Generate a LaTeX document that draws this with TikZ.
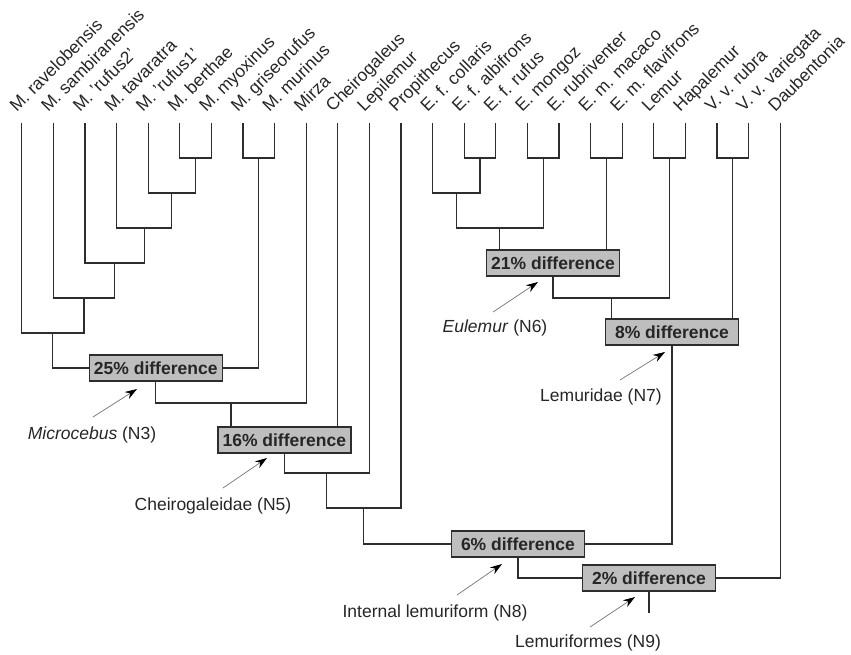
\documentclass[tikz,border=0pt]{standalone}
\usepackage{fontspec}
\setmainfont{Liberation Sans}
\usetikzlibrary{arrows.meta}
\definecolor{treeline}{RGB}{45,45,45}
\definecolor{boxfill}{RGB}{190,190,190}

\tikzset{
  branch/.style={draw=treeline, line width=1.2pt},
  diffbox/.style={draw=treeline, line width=1.4pt, fill=boxfill, minimum width=133pt,
    minimum height=26pt, inner sep=0pt, text=black!85, font=\fontsize{17.5}{20}\selectfont\bfseries},
  taxon/.style={rotate=45, anchor=base west, inner sep=0pt, text=black!85,
    font=\fontsize{17.5}{20}\selectfont},
  clade/.style={inner sep=0pt, text=black!85, font=\fontsize{17.5}{20}\selectfont},
  pointer/.style={draw=black!55, line width=0.7pt, -{Stealth[length=12pt,width=8pt,color=black]}},
}

\begin{document}
\begin{tikzpicture}[x=1pt, y=-1pt]
\useasboundingbox (0,0) rectangle (851,655);

% Taxa
\foreach \name [count=\i from 0] in {M. ravelobensis, M. sambiranensis, M. 'rufus2',
    M. tavaratra, M. 'rufus1', M. berthae, M. myoxinus, M. griseorufus, M. murinus,
    Mirza, Cheirogaleus, Lepilemur, Propithecus, E. f. collaris, E. f. albifrons,
    E. f. rufus, E. mongoz, E. rubriventer, E. m. macaco, E. m. flavifrons, Lemur,
    Hapalemur, V. v. rubra, V. v. variegata, Daubentonia} {
    \coordinate (t\i) at (21.7+31.6*\i, 123);
    \node[taxon] (lbl\i) at (16.7+31.6*\i, 113) {\name};
}

% Difference boxes
\node[diffbox] (d25) at (155.75,368) {25\% difference};
\node[diffbox] (d16) at (284.3,440) {16\% difference};
\node[diffbox] (d21) at (553,263) {21\% difference};
\node[diffbox] (d8) at (672,332) {8\% difference};
\node[diffbox] (d6) at (517.9,544) {6\% difference};
\node[diffbox] (d2) at (649,578) {2\% difference};

% Junctions
\coordinate (a1) at (195.5,158);
\coordinate (a2) at (258.7,158);
\coordinate (a3) at (171.8,193);
\coordinate (a4) at (144.15,228);
\coordinate (a5) at (114.5,263);
\coordinate (a6) at (83.9,298);
\coordinate (a7) at (52.8,333);
\coordinate (a8) at (230.9,403);
\coordinate (a9) at (326.8,473);
\coordinate (a10) at (363.85,508);
\coordinate (b1) at (479.9,158);
\coordinate (b2) at (456.2,193);
\coordinate (b3) at (543.1,158);
\coordinate (b4) at (499.65,228);
\coordinate (b5) at (606.3,158);
\coordinate (b6) at (669.5,158);
\coordinate (b7) at (611.24,298);
\coordinate (b8) at (732.7,158);
\coordinate (root) at (649,613);

% Cheirogaleidae branches
\draw[branch] (t5) |- (a1) -| (t6);
\draw[branch] (t4) |- (a3) -| (a1);
\draw[branch] (t3) |- (a4) -| (a3);
\draw[branch] (t2) |- (a5) -| (a4);
\draw[branch] (t1) |- (a6) -| (a5);
\draw[branch] (t0) |- (a7) -| (a6);
\draw[branch] (t7) |- (a2) -| (t8);
\draw[branch] (a7) |- (d25.west);
\draw[branch] (a2) |- (d25.east);
\draw[branch] (d25.south) |- (a8) -| (t9);
\draw[branch] (a8) -- (a8 |- d16.north);
\draw[branch] (t10) -- (t10 |- d16.north);
\draw[branch] (d16.south) |- (a9) -| (t11);
\draw[branch] (a9) |- (a10) -| (t12);

% Lemuridae branches
\draw[branch] (t14) |- (b1) -| (t15);
\draw[branch] (t13) |- (b2) -| (b1);
\draw[branch] (t16) |- (b3) -| (t17);
\draw[branch] (b2) |- (b4) -| (b3);
\draw[branch] (t18) |- (b5) -| (t19);
\draw[branch] (b4) -- (b4 |- d21.north);
\draw[branch] (b5) -- (b5 |- d21.north);
\draw[branch] (t20) |- (b6) -| (t21);
\draw[branch] (d21.south) |- (b7) -| (b6);
\draw[branch] (t22) |- (b8) -| (t23);
\draw[branch] (b7) -- (b7 |- d8.north);
\draw[branch] (b8) -- (b8 |- d8.north);

% Basal branches
\draw[branch] (a10) |- (d6.west);
\draw[branch] (d8.south) |- (d6.east);
\draw[branch] (d6.south) |- (d2.west);
\draw[branch] (t24) |- (d2.east);
\draw[branch] (d2.south) -- (root);

% Clade labels
\node[clade] (n3) at (92,435) {\textit{Microcebus} (N3)};
\node[clade] (n5) at (213,506) {Cheirogaleidae (N5)};
\node[clade] (n6) at (495,328) {\textit{Eulemur} (N6)};
\node[clade] (n7) at (601,397) {Lemuridae (N7)};
\node[clade] (n8) at (435,613) {Internal lemuriform (N8)};
\node[clade] (n9) at (588,643) {Lemuriformes (N9)};

% Pointers
\coordinate (p3) at (93,417);   \coordinate (q3) at (137,389);
\coordinate (p5) at (223,488);  \coordinate (q5) at (267,458);
\coordinate (p6) at (493,312);  \coordinate (q6) at (538,282);
\coordinate (p7) at (620,380);  \coordinate (q7) at (665,352);
\coordinate (p8) at (457,595);  \coordinate (q8) at (502,564);
\coordinate (p9) at (590,627);  \coordinate (q9) at (635,597);
\foreach \k in {3,5,6,7,8,9} {
    \draw[pointer] (p\k) -- (q\k);
}
\end{tikzpicture}
\end{document}
